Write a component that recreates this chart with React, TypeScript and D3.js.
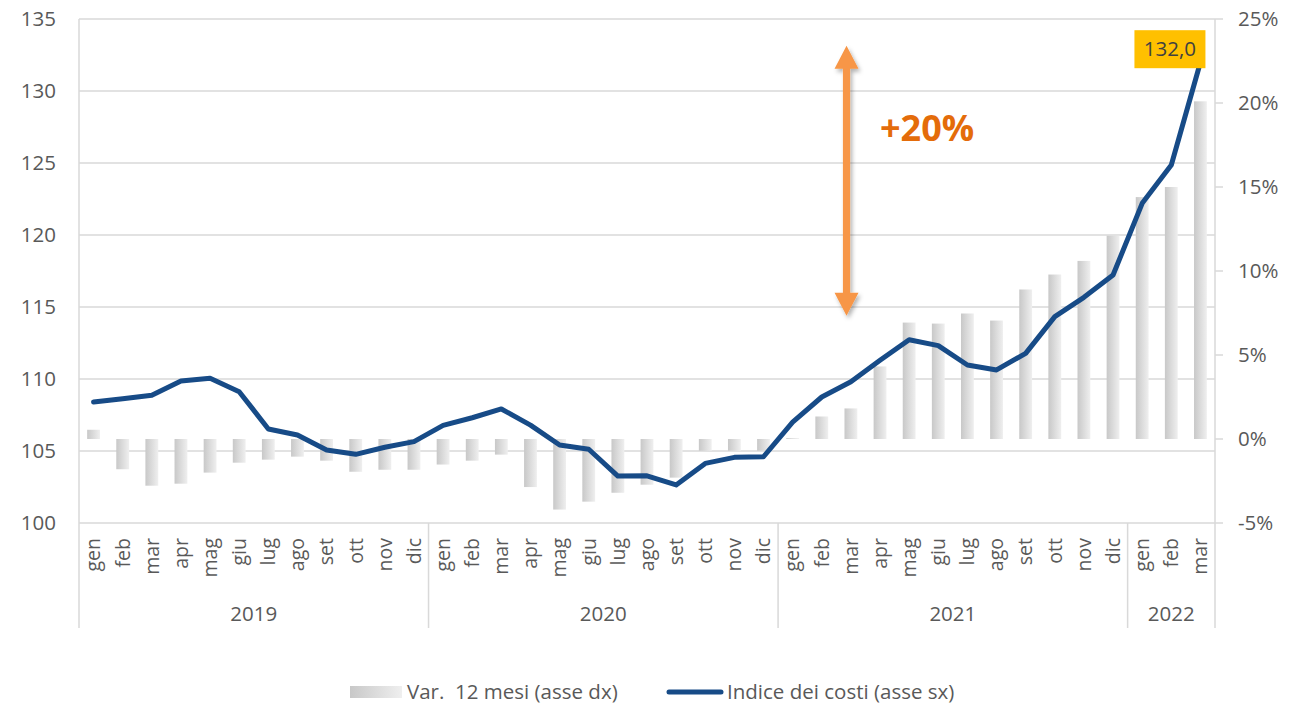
import React from 'react';
import * as d3 from 'd3';

const months = ['gen', 'feb', 'mar', 'apr', 'mag', 'giu', 'lug', 'ago', 'set', 'ott', 'nov', 'dic'];
const yearLabels = ['2019', '2020', '2021', '2022'];
const yearMonthCounts = [12, 12, 12, 3];

// Indice dei costi (asse sx)
const indexValues = [
  108.4, 108.63, 108.87, 109.86, 110.05, 109.12, 106.53, 106.11, 105.07, 104.77, 105.26, 105.65,
  106.78, 107.31, 107.92, 106.8, 105.42, 105.12, 103.26, 103.28, 102.64, 104.14, 104.56, 104.6,
  107.0, 108.75, 109.81, 111.3, 112.73, 112.32, 110.97, 110.63, 111.78, 114.33, 115.67, 117.22,
  122.2, 124.86, 132.0,
];

// Var. 12 mesi (asse dx), in percent
const varValues = [
  0.55, -1.8, -2.78, -2.66, -2.0, -1.41, -1.23, -1.05, -1.29, -1.95, -1.83, -1.83,
  -1.52, -1.29, -0.93, -2.86, -4.2, -3.73, -3.2, -2.72, -2.3, -0.7, -0.7, -0.7,
  0.05, 1.34, 1.82, 4.32, 6.93, 6.87, 7.47, 7.05, 8.9, 9.79, 10.6, 12.1,
  14.4, 15.0, 20.1,
];

const leftTicks = [100, 105, 110, 115, 120, 125, 130, 135];
const rightTicks = [-5, 0, 5, 10, 15, 20, 25];

const lastLabel = '132,0';
const annotationText = '+20%';
const arrowFrom = 114.4; // left-axis units
const arrowTo = 133.15;
const arrowPos = 26.35; // category position

const legendBar = 'Var.  12 mesi (asse dx)';
const legendLine = 'Indice dei costi (asse sx)';

const FONT = '"Open Sans", sans-serif';
const TXT = '#595959';
const GRID = '#d9d9d9';
const LINE = '#174b87';

export default function App() {
  const W = 1301, H = 704;
  const left = 79, right = 1215, top = 19, bottom = 523, catBottom = 628;

  const cats: { m: string; y: number }[] = [];
  yearMonthCounts.forEach((c, yi) => {
    for (let i = 0; i < c; i++) cats.push({ m: months[i], y: yi });
  });
  const idx = cats.map((_, i) => i);

  const x = d3.scaleBand<number>().domain(idx).range([left, right]).paddingInner(0.56).paddingOuter(0.28);
  const step = x.step();
  const cx = (i: number) => (x(i) as number) + x.bandwidth() / 2;
  const pos = (p: number) => left + p * step;

  const yL = d3.scaleLinear().domain([100, 135]).range([bottom, top]);
  const yR = d3.scaleLinear().domain([-5, 25]).range([bottom, top]);

  const line = d3.line<number>().x((_, i) => cx(i)).y((d) => yL(d));

  const bounds: number[] = [0];
  yearMonthCounts.forEach((c, i) => bounds.push(bounds[i] + c));

  const ax = pos(arrowPos);
  const aTop = yL(arrowTo), aBot = yL(arrowFrom);
  const hw = 12, hl = 23, sw = 3.6;
  const arrowPath = [
    `M${ax},${aTop}`,
    `L${ax + hw},${aTop + hl}`,
    `L${ax + sw},${aTop + hl}`,
    `L${ax + sw},${aBot - hl}`,
    `L${ax + hw},${aBot - hl}`,
    `L${ax},${aBot}`,
    `L${ax - hw},${aBot - hl}`,
    `L${ax - sw},${aBot - hl}`,
    `L${ax - sw},${aTop + hl}`,
    `L${ax - hw},${aTop + hl}`,
    'Z',
  ].join(' ');

  const last = indexValues.length - 1;
  const lx = cx(last), ly = yL(indexValues[last]);
  const boxW = 71, boxH = 38;
  const boxX = lx + 5 - boxW, boxY = ly - 32;

  return (
    <svg width={W} height={H} style={{ position: 'absolute', left: 0, top: 0, background: '#fff' }} fontFamily={FONT}>
      <defs>
        <linearGradient id="barGrad" x1="0" y1="0" x2="1" y2="0">
          <stop offset="0" stopColor="#c8c8c8" />
          <stop offset="1" stopColor="#efefef" />
        </linearGradient>
        <filter id="shadow" x="-50%" y="-10%" width="200%" height="120%">
          <feDropShadow dx="2" dy="3" stdDeviation="2" floodColor="#000" floodOpacity="0.3" />
        </filter>
      </defs>

      {leftTicks.map((t) => (
        <line key={'g' + t} x1={left} x2={right} y1={yL(t)} y2={yL(t)} stroke={GRID} strokeWidth={1.5} />
      ))}

      <line x1={left} x2={left} y1={top} y2={catBottom} stroke={GRID} strokeWidth={1.5} />
      <line x1={right} x2={right} y1={top} y2={catBottom} stroke={GRID} strokeWidth={1.5} />
      {bounds.slice(1, -1).map((b) => (
        <line key={'s' + b} x1={pos(b)} x2={pos(b)} y1={bottom} y2={catBottom} stroke={GRID} strokeWidth={1.5} />
      ))}
      {rightTicks.map((t) => (
        <line key={'rt' + t} x1={right} x2={right + 8} y1={yR(t)} y2={yR(t)} stroke={GRID} strokeWidth={1.5} />
      ))}

      {leftTicks.map((t) => (
        <text key={'lt' + t} x={56} y={yL(t)} dy="0.35em" textAnchor="end" fontSize={20.5} fill={TXT}>
          {t}
        </text>
      ))}
      {rightTicks.map((t) => (
        <text key={'rl' + t} x={1238} y={yR(t)} dy="0.35em" textAnchor="start" fontSize={20.5} fill={TXT}>
          {`${t}%`}
        </text>
      ))}

      {varValues.map((v, i) => (
        <rect
          key={'b' + i}
          x={x(i)}
          width={x.bandwidth()}
          y={Math.min(yR(v), yR(0))}
          height={Math.abs(yR(v) - yR(0))}
          fill="url(#barGrad)"
        />
      ))}

      {cats.map((c, i) => (
        <text
          key={'m' + i}
          transform={`translate(${cx(i)},538) rotate(-90)`}
          dy="0.35em"
          textAnchor="end"
          fontSize={19.5}
          fill={TXT}
        >
          {c.m}
        </text>
      ))}
      {yearLabels.map((yl, i) => (
        <text key={'y' + yl} x={(pos(bounds[i]) + pos(bounds[i + 1])) / 2} y={620.7} textAnchor="middle" fontSize={20.5} fill={TXT}>
          {yl}
        </text>
      ))}

      <path d={line(indexValues) || ''} fill="none" stroke={LINE} strokeWidth={5} strokeLinejoin="round" strokeLinecap="round" />

      <path d={arrowPath} fill="#f79646" filter="url(#shadow)" />
      <text x={880} y={141} fontSize={36} fontWeight="bold" fill="#e46c0a">
        {annotationText}
      </text>

      <rect x={boxX} y={boxY} width={boxW} height={boxH} fill="#ffc000" />
      <text x={boxX + boxW / 2} y={boxY + boxH / 2} dy="0.35em" textAnchor="middle" fontSize={20.5} fill="#404040">
        {lastLabel}
      </text>

      <rect x={350} y={686} width={52} height={12} fill="url(#barGrad)" />
      <text x={407} y={698.5} fontSize={20.5} fill={TXT} style={{ whiteSpace: 'pre' }}>
        {legendBar}
      </text>
      <line x1={669} x2={721} y1={692} y2={692} stroke={LINE} strokeWidth={5} strokeLinecap="round" />
      <text x={727} y={698.5} fontSize={20.5} fill={TXT}>
        {legendLine}
      </text>
    </svg>
  );
}
